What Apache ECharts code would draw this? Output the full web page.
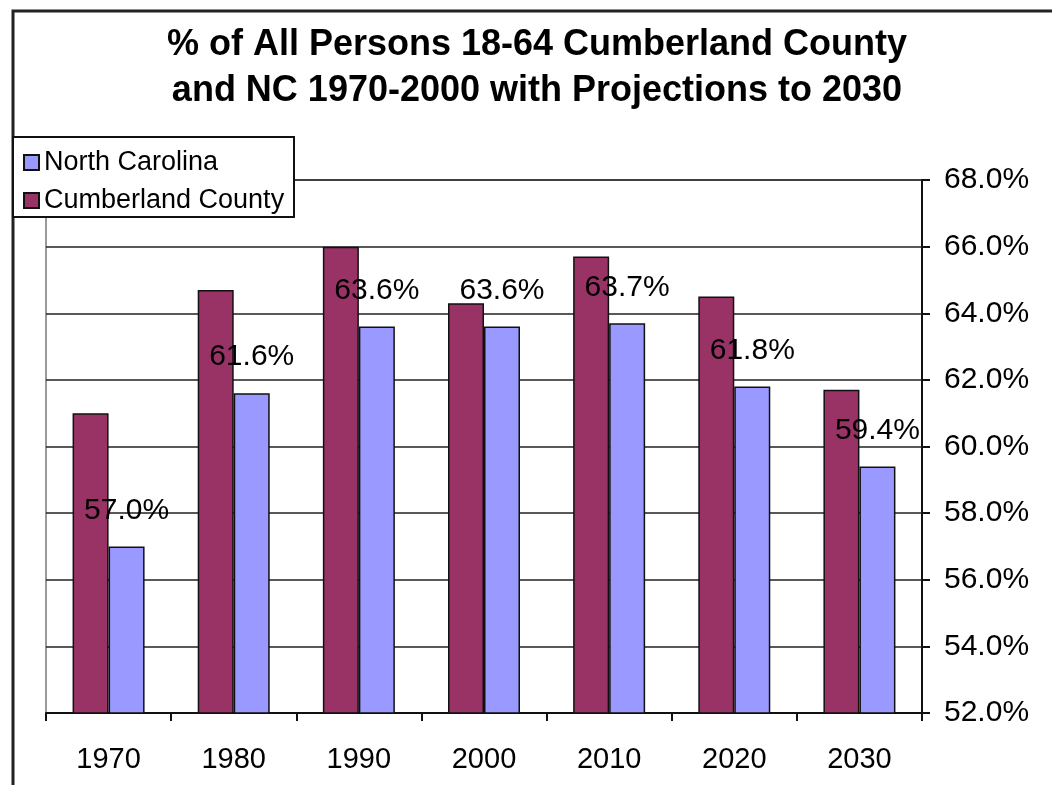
<!DOCTYPE html>
<html>
<head>
<meta charset="utf-8">
<script src="https://cdn.jsdelivr.net/npm/echarts@6/dist/echarts.min.js"></script>
<style>
html,body{margin:0;padding:0;background:#fff;}
#chart{width:1052px;height:785px;}
</style>
</head>
<body>
<div id="chart"></div>
<script>
var categories = ['1970', '1980', '1990', '2000', '2010', '2020', '2030'];
var cumberland = [61.0, 64.7, 66.0, 64.3, 65.7, 64.5, 61.7];
var northCarolina = [57.0, 61.6, 63.6, 63.6, 63.7, 61.8, 59.4];
var titleLines = ['% of All Persons 18-64 Cumberland County', 'and NC 1970-2000 with Projections to 2030'];

var FONT = 'Liberation Sans, Arial, sans-serif';
var chart = echarts.init(document.getElementById('chart'));
chart.setOption({
  backgroundColor: '#fff',
  animation: false,
  title: {
    text: titleLines.join('\n'),
    left: 537,
    top: 22,
    padding: 0,
    textAlign: 'center',
    textStyle: { fontFamily: FONT, fontSize: 36, fontWeight: 'bold', color: '#000', lineHeight: 46 }
  },
  graphic: [
    { type: 'rect', z: -10, shape: { x: 13, y: 11, width: 1200, height: 900 },
      style: { fill: 'none', stroke: '#222', lineWidth: 3 } },
    { type: 'rect', z: 100, shape: { x: 13, y: 137, width: 281, height: 80 },
      style: { fill: '#fff', stroke: '#111', lineWidth: 2 } }
  ],
  legend: {
    data: ['North Carolina', 'Cumberland County'],
    orient: 'vertical',
    left: 23,
    top: 149,
    padding: 0,
    itemWidth: 15,
    itemHeight: 15,
    itemGap: 11,
    itemTextGap: 10,
    icon: 'rect',
    z: 200,
    textStyle: { fontFamily: FONT, fontSize: 27, color: '#000', lineHeight: 27 }
  },
  grid: {
    left: 46, right: 130, top: 180, bottom: 72,
    show: true, borderColor: '#9a9a9a', borderWidth: 2
  },
  xAxis: {
    type: 'category',
    data: categories,
    axisLine: { lineStyle: { color: '#111', width: 2 } },
    axisTick: { show: true, length: 8, lineStyle: { color: '#111', width: 2 } },
    axisLabel: { fontFamily: FONT, fontSize: 29, color: '#000', margin: 32 }
  },
  yAxis: {
    type: 'value',
    position: 'right',
    min: 52, max: 68, interval: 2,
    axisLine: { show: true, lineStyle: { color: '#111', width: 2 } },
    axisTick: { show: true, length: 8, lineStyle: { color: '#111', width: 2 } },
    splitLine: { show: true, lineStyle: { color: '#222', width: 1.5 } },
    axisLabel: { fontFamily: FONT, fontSize: 30, color: '#000', margin: 22,
      formatter: function (v) { return v.toFixed(1) + '%'; } }
  },
  series: [
    {
      name: 'Cumberland County',
      type: 'bar',
      data: cumberland,
      barWidth: 36,
      barGap: '0%',
      itemStyle: { color: '#993366', borderColor: '#111', borderWidth: 1.5 }
    },
    {
      name: 'North Carolina',
      type: 'bar',
      data: northCarolina,
      barWidth: 36,
      barGap: '0%',
      itemStyle: { color: '#9999FF', borderColor: '#111', borderWidth: 1.5 },
      label: {
        show: true, position: 'top', distance: 21,
        fontFamily: FONT, fontSize: 30, color: '#000',
        formatter: function (p) { return p.value.toFixed(1) + '%'; }
      }
    }
  ]
});
</script>
</body>
</html>
